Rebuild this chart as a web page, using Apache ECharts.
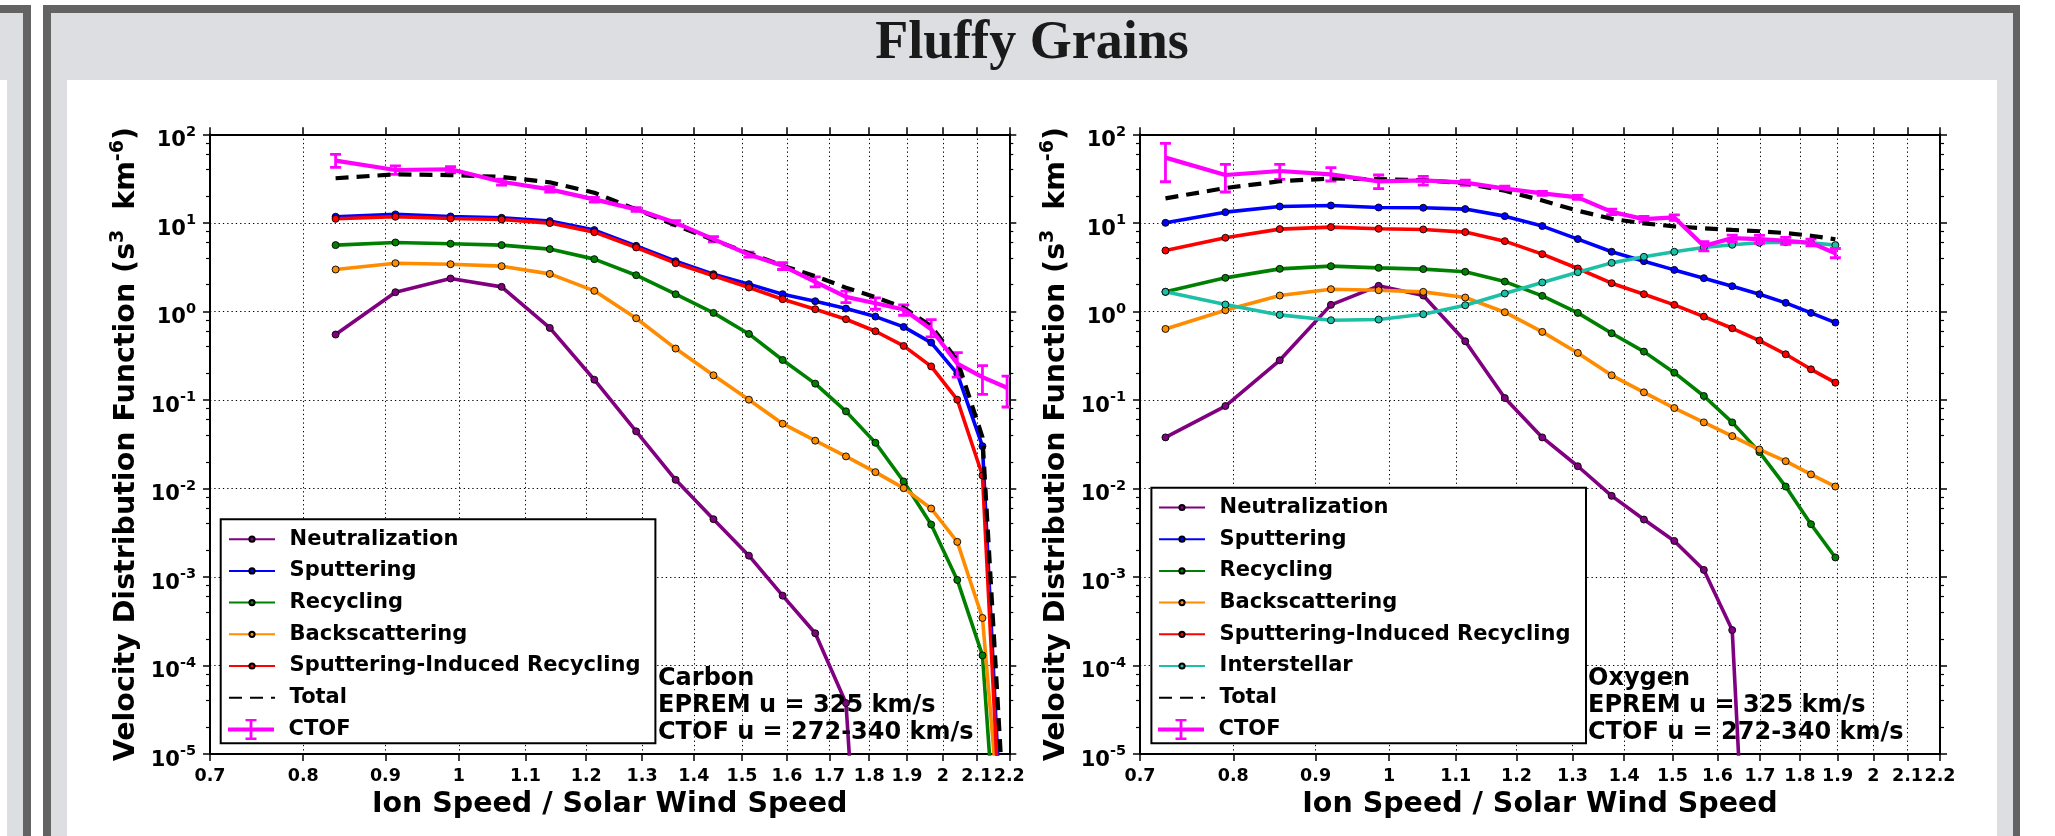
<!DOCTYPE html>
<html>
<head>
<meta charset="utf-8">
<script src="https://cdn.jsdelivr.net/npm/echarts@6/dist/echarts.min.js"></script>
<style>
  html, body { margin: 0; padding: 0; background: #ffffff; }
  #chart { width: 2055px; height: 836px; }
</style>
</head>
<body>
<div id="chart"></div>
<script>
// ---- Carbon panel: ion speed / solar wind speed bins ----
const carbonSpeed = [0.838, 0.913, 0.988, 1.063, 1.139, 1.214, 1.289, 1.364, 1.440, 1.515, 1.590, 1.666, 1.741, 1.816, 1.891, 1.967, 2.042, 2.117, 2.193];
const carbonNeutralization = [0.547, 1.646, 2.35, 1.891, 0.650, 0.169, 0.0441, 0.0125, 0.00449, 0.00174, 6.15e-4, 2.31e-4, 3.76e-5, 2.5e-10, null, null, null, null, null];
const carbonSputtering = [11.7, 12.45, 11.8, 11.4, 10.46, 8.28, 5.50, 3.69, 2.63, 2.03, 1.563, 1.302, 1.076, 0.873, 0.667, 0.444, 0.198, 0.030, 6.5e-8];
const carbonRecycling = [5.60, 6.00, 5.80, 5.60, 5.05, 3.89, 2.56, 1.562, 0.961, 0.556, 0.2825, 0.1526, 0.0742, 0.0328, 0.01197, 0.00391, 9.25e-4, 1.30e-4, 1.5e-8];
const carbonBackscattering = [2.97, 3.50, 3.41, 3.24, 2.65, 1.704, 0.836, 0.380, 0.1895, 0.1005, 0.0538, 0.0346, 0.0230, 0.01527, 0.01007, 0.00593, 0.00249, 3.44e-4, 1.9e-7];
const carbonSIR = [11.1, 11.7, 11.2, 10.9, 9.93, 7.85, 5.27, 3.50, 2.52, 1.858, 1.372, 1.057, 0.815, 0.596, 0.407, 0.239, 0.1005, 0.014, 4.4e-8];
const carbonTotal = [31.9, 35.3, 34.6, 33.0, 28.7, 21.9, 14.2, 9.4, 6.4, 4.55, 3.27, 2.5, 1.85, 1.45, 1.10, 0.68, 0.28, 0.038, 5.6e-7];
const carbonCTOF = [50.4, 39.5, 40.3, 29.1, 23.9, 18.4, 14.2, 10.0, 6.55, 4.39, 3.27, 2.15, 1.458, 1.236, 1.048, 0.628, 0.257, 0.181, 0.137];
const carbonCTOFLow = [42.4, 35.3, 36.8, 26.7, 22.3, 17.2, 13.45, 9.42, 6.11, 4.10, 2.97, 1.891, 1.257, 1.057, 0.904, 0.514, 0.181, 0.1155, 0.0831];
const carbonCTOFHigh = [59.4, 43.9, 43.1, 31.2, 25.6, 19.4, 14.8, 10.55, 6.96, 4.67, 3.56, 2.455, 1.690, 1.420, 1.184, 0.805, 0.342, 0.244, 0.186];

// ---- Oxygen panel ----
const oxygenSpeed = [0.726, 0.791, 0.855, 0.920, 0.985, 1.050, 1.115, 1.180, 1.245, 1.310, 1.375, 1.440, 1.504, 1.569, 1.634, 1.699, 1.764, 1.829, 1.894];
const oxygenNeutralization = [0.0377, 0.0852, 0.280, 1.184, 1.941, 1.509, 0.459, 0.105, 0.0377, 0.0178, 0.00824, 0.00445, 0.00255, 0.00120, 2.51e-4, 2.2e-10, null, null, null];
const oxygenSputtering = [10.0, 13.2, 15.3, 15.7, 14.9, 14.8, 14.3, 11.9, 9.19, 6.55, 4.71, 3.69, 2.94, 2.37, 1.924, 1.563, 1.247, 0.961, 0.747];
const oxygenRecycling = [1.661, 2.39, 3.02, 3.24, 3.10, 3.00, 2.80, 2.17, 1.496, 0.961, 0.566, 0.351, 0.203, 0.1106, 0.0557, 0.0257, 0.0105, 0.00394, 0.00166];
const oxygenBackscattering = [0.633, 1.030, 1.509, 1.780, 1.734, 1.661, 1.432, 0.978, 0.586, 0.339, 0.1895, 0.1217, 0.0809, 0.0557, 0.039, 0.0275, 0.0203, 0.0144, 0.0105];
const oxygenSIR = [4.87, 6.78, 8.49, 8.95, 8.57, 8.42, 7.86, 6.21, 4.43, 3.05, 2.08, 1.563, 1.184, 0.873, 0.644, 0.4675, 0.3275, 0.2215, 0.1565];
const oxygenInterstellar = [1.661, 1.194, 0.912, 0.794, 0.808, 0.928, 1.173, 1.590, 2.12, 2.77, 3.53, 4.13, 4.71, 5.27, 5.65, 5.95, 6.05, 5.95, 5.60];
const oxygenTotal = [18.9, 24.7, 29.5, 31.7, 31.1, 30.3, 28.0, 23.0, 17.9, 13.7, 11.1, 9.86, 9.12, 8.68, 8.31, 8.03, 7.66, 7.15, 6.52];
const oxygenCTOF = [54.5, 34.7, 38.5, 35.3, 29.4, 30.2, 28.4, 24.3, 21.5, 19.4, 13.3, 11.0, 11.5, 5.46, 6.72, 6.55, 6.27, 5.95, 4.51];
const oxygenCTOFLow = [29.1, 22.3, 31.0, 29.7, 24.3, 26.7, 26.5, 23.1, 20.4, 18.4, 12.4, 10.3, 10.7, 4.83, 6.11, 5.85, 5.70, 5.50, 4.03];
const oxygenCTOFHigh = [79.1, 45.8, 45.8, 42.0, 34.7, 33.5, 30.4, 26.0, 22.7, 20.4, 14.3, 11.8, 12.3, 6.11, 7.26, 7.20, 6.84, 6.55, 5.13];

// ---- axis ticks ----
const xTicks = [0.7, 0.8, 0.9, 1.0, 1.1, 1.2, 1.3, 1.4, 1.5, 1.6, 1.7, 1.8, 1.9, 2.0, 2.1, 2.2];
const yTicks = [1e-5, 1e-4, 1e-3, 1e-2, 1e-1, 1, 10, 100];
const yMinorTicks = [];
for (let e = -5; e <= 1; e++) {
  for (const m of [2, 4, 6, 8]) yMinorTicks.push(+(m * Math.pow(10, e)).toPrecision(3));
}

const FONT = 'DejaVu Sans';
const COLORS = {
  Neutralization: '#800080',
  Sputtering: '#0000ff',
  Recycling: '#008000',
  Backscattering: '#ff8c00',
  'Sputtering-Induced Recycling': '#ff0000',
  Interstellar: '#1cc0a6',
  Total: '#000000',
  CTOF: '#ff00ff'
};

function pairs(xs, ys) {
  return xs.map((x, i) => [x, ys[i] == null ? '-' : ys[i]]);
}

function xAxisMain(gridIndex) {
  return {
    type: 'log', logBase: 10, gridIndex, min: 0.7, max: 2.2, position: 'bottom',
    axisLine: { show: true, onZero: false, lineStyle: { color: '#000', width: 2 } },
    axisTick: { show: true, customValues: xTicks, length: 7, lineStyle: { color: '#000', width: 1.5 } },
    axisLabel: {
      show: true, customValues: xTicks, margin: 13,
      formatter: v => String(Math.round(v * 10) / 10),
      color: '#000', fontFamily: FONT, fontWeight: 'bold', fontSize: 17.5
    },
    splitLine: { show: true, lineStyle: { color: '#000', width: 1, type: [1.3, 3] } },
    name: 'Ion Speed / Solar Wind Speed', nameLocation: 'middle', nameGap: 36,
    nameTextStyle: { color: '#000', fontFamily: FONT, fontWeight: 'bold', fontSize: 28.5 }
  };
}
function xAxisTop(gridIndex) {
  return {
    type: 'log', logBase: 10, gridIndex, min: 0.7, max: 2.2, position: 'top',
    axisLine: { show: true, onZero: false, lineStyle: { color: '#000', width: 2 } },
    axisTick: { show: true, customValues: xTicks, length: 7, lineStyle: { color: '#000', width: 1.5 } },
    axisLabel: { show: false }, splitLine: { show: false }
  };
}
function yAxisMain(gridIndex) {
  return {
    type: 'log', logBase: 10, gridIndex, min: 1e-5, max: 100, position: 'left',
    axisLine: { show: true, onZero: false, lineStyle: { color: '#000', width: 2 } },
    axisTick: { show: true, customValues: yTicks, length: 7, lineStyle: { color: '#000', width: 1.5 } },
    axisLabel: {
      show: true, customValues: yTicks, margin: 14, padding: [7, 0, 0, 0],
      formatter: v => '{b|10}{s|' + Math.round(Math.log10(v)) + '}',
      rich: {
        b: { color: '#000', fontFamily: FONT, fontWeight: 'bold', fontSize: 21, lineHeight: 27, verticalAlign: 'bottom' },
        s: { color: '#000', fontFamily: FONT, fontWeight: 'bold', fontSize: 14.5, lineHeight: 14, verticalAlign: 'top' }
      }
    },
    splitLine: { show: true, lineStyle: { color: '#000', width: 1, type: [1.3, 3] } },
    name: '{n|Velocity Distribution Function (s}{s|3}{n|  km}{s|-6}{n|)}',
    nameLocation: 'middle', nameGap: 69,
    nameTextStyle: {
      rich: {
        n: { color: '#000', fontFamily: FONT, fontWeight: 'bold', fontSize: 28.5, lineHeight: 32, verticalAlign: 'bottom' },
        s: { color: '#000', fontFamily: FONT, fontWeight: 'bold', fontSize: 19, lineHeight: 18, verticalAlign: 'top' }
      }
    }
  };
}
function yAxisRight(gridIndex) {
  return {
    type: 'log', logBase: 10, gridIndex, min: 1e-5, max: 100, position: 'right',
    axisLine: { show: true, onZero: false, lineStyle: { color: '#000', width: 2 } },
    axisTick: { show: true, customValues: yTicks, length: 7, lineStyle: { color: '#000', width: 1.5 } },
    axisLabel: { show: false }, splitLine: { show: false }
  };
}
function yAxisMinor(gridIndex, position) {
  return {
    type: 'log', logBase: 10, gridIndex, min: 1e-5, max: 100, position,
    axisLine: { show: false },
    axisTick: { show: true, customValues: yMinorTicks, length: 4, lineStyle: { color: '#000', width: 1.2 } },
    axisLabel: { show: false }, splitLine: { show: false }
  };
}

function modelLine(name, xs, ys, xi, yi) {
  return {
    type: 'line', name, xAxisIndex: xi, yAxisIndex: yi, data: pairs(xs, ys),
    symbol: 'circle', symbolSize: 7, showSymbol: true, clip: true, z: 2,
    lineStyle: { color: COLORS[name], width: 3.6 },
    itemStyle: { color: COLORS[name], borderColor: '#000', borderWidth: 0.9 },
    emphasis: { disabled: true }, silent: true
  };
}
function totalLine(xs, ys, xi, yi) {
  return {
    type: 'line', name: 'Total', xAxisIndex: xi, yAxisIndex: yi, data: pairs(xs, ys),
    symbol: 'none', clip: true, z: 3,
    lineStyle: { color: '#000', width: 4.2, type: [13, 8] },
    itemStyle: { color: '#000' },
    emphasis: { disabled: true }, silent: true
  };
}
function ctofLine(xs, ys, xi, yi) {
  return {
    type: 'line', name: 'CTOF', xAxisIndex: xi, yAxisIndex: yi, data: pairs(xs, ys),
    symbol: 'none', clip: true, z: 3,
    lineStyle: { color: COLORS.CTOF, width: 4.2 },
    itemStyle: { color: COLORS.CTOF },
    emphasis: { disabled: true }, silent: true
  };
}
function ctofBars(xs, lo, hi, xi, yi) {
  return {
    type: 'custom', name: 'CTOF range', xAxisIndex: xi, yAxisIndex: yi, z: 3, clip: true,
    data: xs.map((x, i) => [x, lo[i], hi[i]]),
    encode: { x: 0, y: [1, 2] },
    renderItem: (params, api) => {
      const p1 = api.coord([api.value(0), api.value(1)]);
      const p2 = api.coord([api.value(0), api.value(2)]);
      const cap = 5.5;
      const st = { stroke: COLORS.CTOF, lineWidth: 2.8 };
      return {
        type: 'group',
        children: [
          { type: 'line', shape: { x1: p1[0], y1: p1[1], x2: p2[0], y2: p2[1] }, style: st },
          { type: 'line', shape: { x1: p1[0] - cap, y1: p1[1], x2: p1[0] + cap, y2: p1[1] }, style: st },
          { type: 'line', shape: { x1: p2[0] - cap, y1: p2[1], x2: p2[0] + cap, y2: p2[1] }, style: st }
        ]
      };
    },
    silent: true
  };
}

const legendText = { color: '#000', fontFamily: FONT, fontWeight: 'bold', fontSize: 21, lineHeight: 24, padding: [0, 0, 0, 9.6] };
const ctofIcon = 'path://M0,8.5h46v4h-46z M21.6,0h2.8v21h-2.8z M17.5,0h11v2.4h-11z M17.5,18.6h11v2.4h-11z';
function modelLegend(left, top, names) {
  return {
    orient: 'vertical', left, top, padding: 0, itemWidth: 46, itemHeight: 6.5, itemGap: 7.7,
    selectedMode: false, textStyle: legendText,
    data: names.map(n => n === 'Total' ? { name: n, itemStyle: { opacity: 0 } } : { name: n })
  };
}
function ctofLegend(left, top) {
  return {
    orient: 'vertical', left, top, padding: 0, itemWidth: 46, itemHeight: 21,
    selectedMode: false, textStyle: legendText,
    data: [{ name: 'CTOF', icon: ctofIcon, itemStyle: { color: COLORS.CTOF } }]
  };
}

const panelDark = '#636364';
const panelLight = '#dddee1';

const option = {
  animation: false,
  backgroundColor: '#ffffff',
  grid: [
    { left: 210, top: 134.3, width: 799.3, height: 619.7, outerBoundsMode: 'none', containLabel: false },
    { left: 1140, top: 134.3, width: 800, height: 619.7, outerBoundsMode: 'none', containLabel: false }
  ],
  xAxis: [xAxisMain(0), xAxisTop(0), xAxisMain(1), xAxisTop(1)],
  yAxis: [
    yAxisMain(0), yAxisRight(0), yAxisMinor(0, 'left'), yAxisMinor(0, 'right'),
    yAxisMain(1), yAxisRight(1), yAxisMinor(1, 'left'), yAxisMinor(1, 'right')
  ],
  legend: [
    modelLegend(228, 527.2, ['Neutralization', 'Sputtering', 'Recycling', 'Backscattering', 'Sputtering-Induced Recycling', 'Total']),
    ctofLegend(228, 717.4),
    modelLegend(1158, 495.5, ['Neutralization', 'Sputtering', 'Recycling', 'Backscattering', 'Sputtering-Induced Recycling', 'Interstellar', 'Total']),
    ctofLegend(1158, 717.4)
  ],
  series: [
    modelLine('Neutralization', carbonSpeed, carbonNeutralization, 0, 0),
    modelLine('Sputtering', carbonSpeed, carbonSputtering, 0, 0),
    modelLine('Recycling', carbonSpeed, carbonRecycling, 0, 0),
    modelLine('Backscattering', carbonSpeed, carbonBackscattering, 0, 0),
    modelLine('Sputtering-Induced Recycling', carbonSpeed, carbonSIR, 0, 0),
    totalLine(carbonSpeed, carbonTotal, 0, 0),
    ctofLine(carbonSpeed, carbonCTOF, 0, 0),
    ctofBars(carbonSpeed, carbonCTOFLow, carbonCTOFHigh, 0, 0),

    modelLine('Neutralization', oxygenSpeed, oxygenNeutralization, 2, 4),
    modelLine('Sputtering', oxygenSpeed, oxygenSputtering, 2, 4),
    modelLine('Recycling', oxygenSpeed, oxygenRecycling, 2, 4),
    modelLine('Backscattering', oxygenSpeed, oxygenBackscattering, 2, 4),
    modelLine('Sputtering-Induced Recycling', oxygenSpeed, oxygenSIR, 2, 4),
    modelLine('Interstellar', oxygenSpeed, oxygenInterstellar, 2, 4),
    totalLine(oxygenSpeed, oxygenTotal, 2, 4),
    ctofLine(oxygenSpeed, oxygenCTOF, 2, 4),
    ctofBars(oxygenSpeed, oxygenCTOFLow, oxygenCTOFHigh, 2, 4)
  ],
  graphic: [
    // neighbouring panel on the far left
    { type: 'rect', z: -1, shape: { x: -10, y: 5, width: 41, height: 900 }, style: { fill: panelDark } },
    { type: 'rect', z: -1, shape: { x: -10, y: 13, width: 33, height: 900 }, style: { fill: panelLight } },
    { type: 'rect', z: -1, shape: { x: -10, y: 80, width: 17, height: 900 }, style: { fill: '#ffffff' } },
    // main panel frame, title bar and white plotting area
    { type: 'rect', z: -1, shape: { x: 43, y: 5, width: 1977, height: 900 }, style: { fill: panelDark } },
    { type: 'rect', z: -1, shape: { x: 51, y: 13, width: 1962, height: 900 }, style: { fill: panelLight } },
    { type: 'rect', z: -1, shape: { x: 67, y: 80, width: 1930, height: 900 }, style: { fill: '#ffffff' } },
    {
      type: 'text', z: 5,
      style: { text: 'Fluffy Grains', x: 1032, y: 43.6, align: 'center', verticalAlign: 'middle',
               font: 'bold 54px "Liberation Serif"', fill: '#1a1a1a' }
    },
    // legend frames
    { type: 'rect', z: 3, shape: { x: 220.7, y: 519.3, width: 434.7, height: 224 },
      style: { fill: '#ffffff', stroke: '#000', lineWidth: 2 } },
    { type: 'rect', z: 3, shape: { x: 1151.4, y: 487.7, width: 434.6, height: 255.6 },
      style: { fill: '#ffffff', stroke: '#000', lineWidth: 2 } },
    // panel annotations
    {
      type: 'text', z: 5,
      style: { text: 'Carbon\nEPREM u = 325 km/s\nCTOF u = 272-340 km/s', x: 658, y: 665,
               verticalAlign: 'top', align: 'left', lineHeight: 27,
               font: 'bold 24px "DejaVu Sans"', fill: '#000' }
    },
    {
      type: 'text', z: 5,
      style: { text: 'Oxygen\nEPREM u = 325 km/s\nCTOF u = 272-340 km/s', x: 1588, y: 665,
               verticalAlign: 'top', align: 'left', lineHeight: 27,
               font: 'bold 24px "DejaVu Sans"', fill: '#000' }
    }
  ]
};

const chart = echarts.init(document.getElementById('chart'), null, { renderer: 'canvas' });
chart.setOption(option);
</script>
</body>
</html>
